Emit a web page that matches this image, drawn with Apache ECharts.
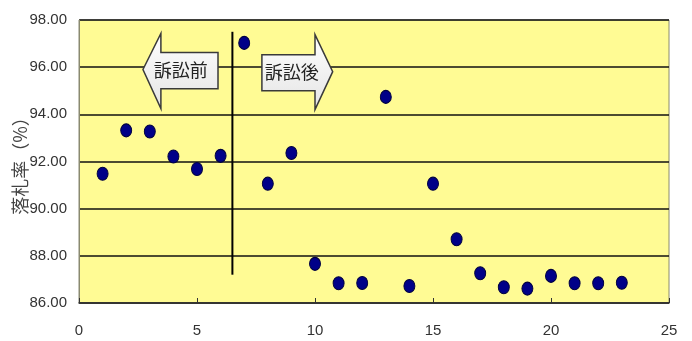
<!DOCTYPE html>
<html>
<head>
<meta charset="utf-8">
<script src="https://cdn.jsdelivr.net/npm/echarts@6/dist/echarts.min.js"></script>
<style>
  html, body { margin: 0; padding: 0; background: #fff; }
  #chart { width: 692px; height: 341px; }
</style>
</head>
<body>
<div id="chart"></div>
<script>
// Bid-award rate (%) per case number, before and after the lawsuit
const caseNo = [1, 2, 3, 4, 5, 6, 7, 8, 9, 10, 11, 12, 13, 14, 15, 16, 17, 18, 19, 20, 21, 22, 23];
const rate = [91.48, 93.32, 93.27, 92.21, 91.68, 92.24, 97.03, 91.06, 92.36, 87.66, 86.84, 86.85, 94.74,
              86.72, 91.06, 88.70, 87.26, 86.67, 86.61, 87.15, 86.84, 86.84, 86.86];

const xTicks = [0, 5, 10, 15, 20, 25];
const yTicks = [86, 88, 90, 92, 94, 96, 98];

// Lawsuit boundary and its annotations
const dividerX = 6.5;
const dividerSpan = [87.2, 97.5];
const beforeLabel = '訴訟前';
const afterLabel = '訴訟後';

const points = caseNo.map((c, i) => [c, rate[i]]);

const arrowFill = {
  type: 'linear', x: 0, y: 0, x2: 0, y2: 1,
  colorStops: [{ offset: 0, color: '#ffffff' }, { offset: 1, color: '#e4e4e4' }]
};

// Arrow outlines in data units: [x, y] vertices
function leftArrowShape() {
  return [[2.71, 95.9], [3.47, 97.43], [3.47, 96.62], [5.89, 96.62], [5.89, 95.09], [3.47, 95.09], [3.47, 94.24]];
}
function rightArrowShape() {
  return [[7.75, 96.53], [10.0, 96.53], [10.0, 97.38], [10.75, 95.81], [10.0, 94.2], [10.0, 95.0], [7.75, 95.0]];
}

const chart = echarts.init(document.getElementById('chart'), null, { renderer: 'canvas' });

chart.setOption({
  backgroundColor: '#ffffff',
  animation: false,
  grid: { left: 79, right: 23, top: 20, bottom: 38, outerBoundsMode: 'none', containLabel: false,
          show: true, backgroundColor: '#fffb94', borderColor: '#8a8a70', borderWidth: 1 },
  xAxis: {
    type: 'value', min: xTicks[0], max: xTicks[xTicks.length - 1], interval: 5,
    axisLine: { lineStyle: { color: '#333', width: 1.5 } },
    axisTick: { inside: true, length: 5, lineStyle: { color: '#333' } },
    splitLine: { show: false },
    axisLabel: { color: '#333', fontSize: 15, fontFamily: 'Liberation Sans', margin: 20 }
  },
  yAxis: {
    type: 'value', min: yTicks[0], max: yTicks[yTicks.length - 1], interval: 2,
    name: '落札率（%）', nameLocation: 'middle', nameRotate: 90, nameGap: 50, nameMoveOverlap: false,
    nameTextStyle: { color: '#444', fontSize: 18, fontFamily: 'Noto Sans CJK JP' },
    axisLine: { show: true, lineStyle: { color: '#8a8a70' } },
    axisTick: { show: false },
    splitLine: { lineStyle: { color: '#111', width: 1.5 } },
    axisLabel: { color: '#333', fontSize: 15, fontFamily: 'Liberation Sans', margin: 12,
                 formatter: v => v.toFixed(2) }
  },
  series: [
    {
      type: 'custom',
      coordinateSystem: 'cartesian2d',
      data: [[dividerX, dividerSpan[0], dividerSpan[1]]],
      z: 3,
      renderItem: (params, api) => {
        const a = api.coord([api.value(0), api.value(1)]);
        const b = api.coord([api.value(0), api.value(2)]);
        return { type: 'line', shape: { x1: a[0], y1: a[1], x2: b[0], y2: b[1] },
                 style: { stroke: '#000', lineWidth: 2 } };
      }
    },
    {
      type: 'custom',
      coordinateSystem: 'cartesian2d',
      data: [[0], [1]],
      z: 4,
      renderItem: (params, api) => {
        const left = params.dataIndex === 0;
        const shape = left ? leftArrowShape() : rightArrowShape();
        const pts = shape.map(p => api.coord(p));
        const tc = left ? api.coord([4.31, 95.86]) : api.coord([9.02, 95.77]);
        return {
          type: 'group',
          children: [
            { type: 'polygon', shape: { points: pts },
              style: { fill: arrowFill, stroke: '#3a3a3a', lineWidth: 1.5 } },
            { type: 'text', x: tc[0], y: tc[1],
              style: { text: left ? beforeLabel : afterLabel, fill: '#222', fontSize: 18,
                       fontFamily: 'Noto Sans CJK JP', align: 'center', verticalAlign: 'middle' } }
          ]
        };
      }
    },
    {
      type: 'scatter',
      data: points,
      symbol: 'circle',
      symbolSize: [11, 13],
      z: 5,
      itemStyle: { color: '#000088', borderColor: '#000040', borderWidth: 1, opacity: 1 }
    }
  ]
});
</script>
</body>
</html>
